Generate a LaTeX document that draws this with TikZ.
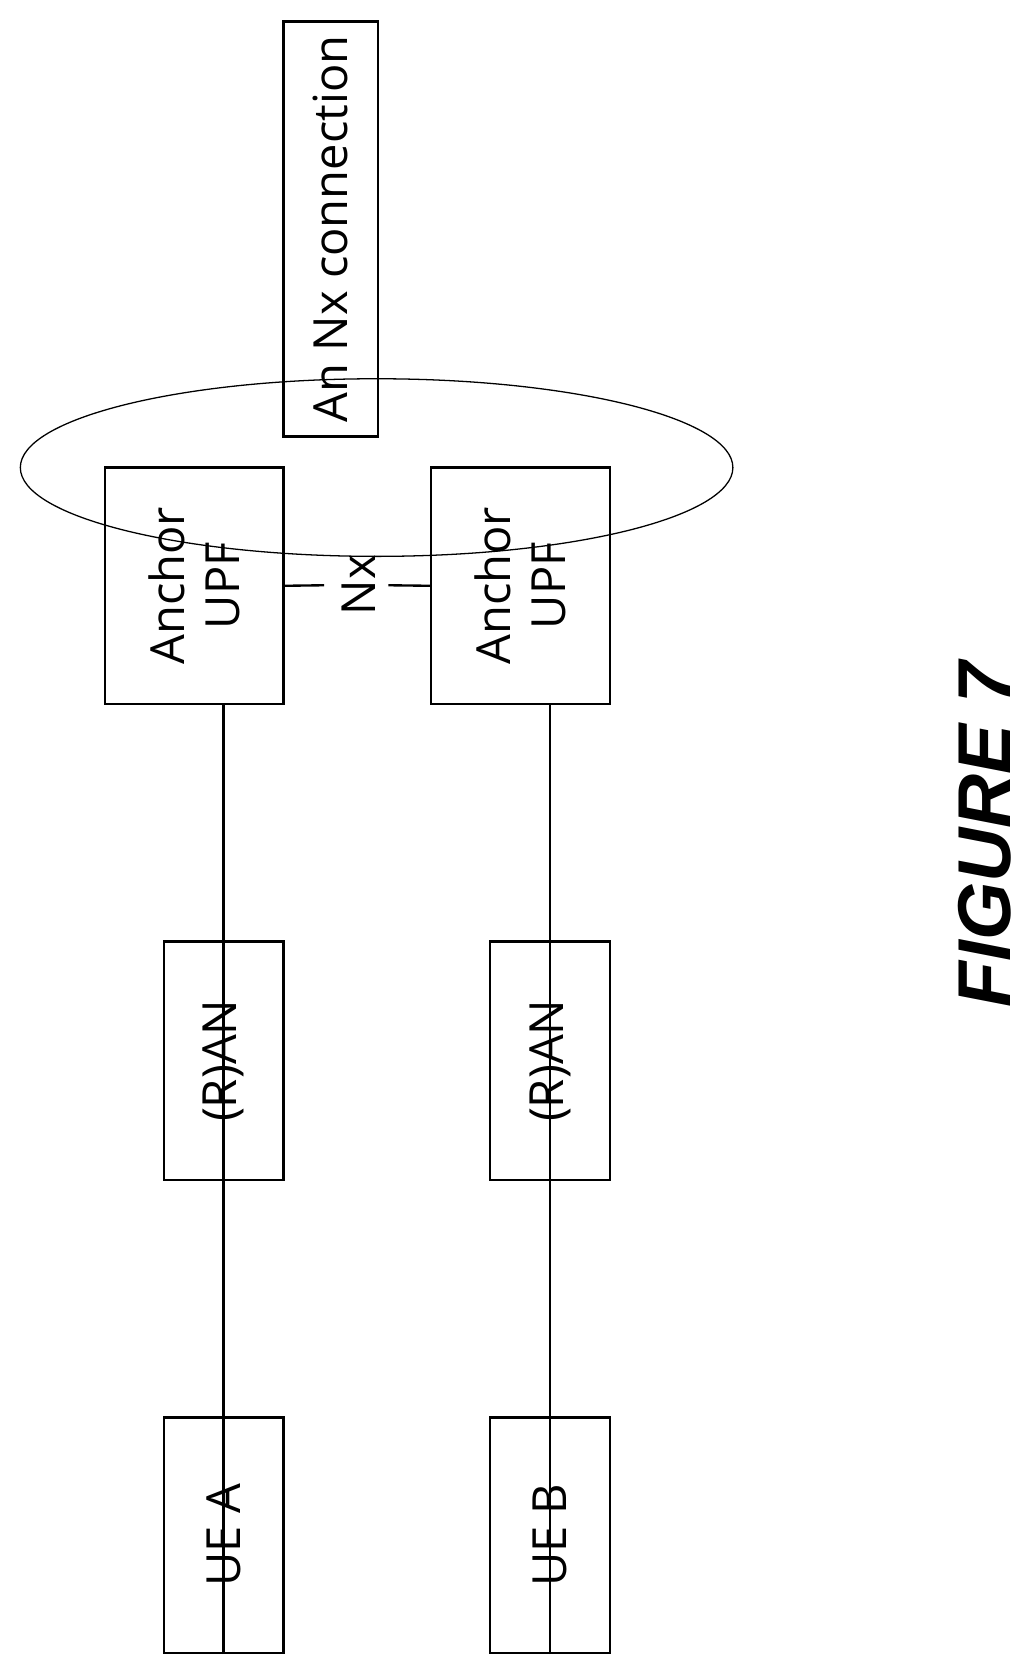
\documentclass[tikz,border=0pt]{standalone}
\usepackage{fontspec}
\setmainfont{Open Sans}
\newfontfamily\figfont{Liberation Sans}
\begin{document}
\begin{tikzpicture}[x=1pt,y=-1pt,
  box/.style={draw,line width=2.2pt,minimum width=#1,inner sep=0pt},
  lbl/.style={rotate=90,font=\fontsize{44}{52}\selectfont,align=center},
  conn/.style={line width=2.2pt}]
\useasboundingbox (0,0) rectangle (961,1559);
\node[box=167pt,minimum height=221pt] (u1) at (181.5,547.5) {};
\node[box=167pt,minimum height=221pt] (u2) at (486.5,547.5) {};
\node[lbl] at (u1) {Anchor\\UPF};
\node[lbl] at (u2) {Anchor\\UPF};
\node[box=112pt,minimum height=223pt] (r1) at (209,991.5) {};
\node[box=112pt,minimum height=223pt] (r2) at (514,991.5) {};
\node[lbl] at (r1) {(R)AN};
\node[lbl] at (r2) {(R)AN};
\node[box=112pt,minimum height=220pt] (e1) at (209,1435) {};
\node[box=112pt,minimum height=220pt] (e2) at (514,1435) {};
\node[lbl] at (e1) {UE A};
\node[lbl] at (e2) {UE B};
\draw[conn] (r1.south) -- (r1.south |- u1.south);
\draw[conn] (e1.south) -- (r1.north);
\draw[conn] (r2.south) -- (r2.south |- u2.south);
\draw[conn] (e2.south) -- (r2.north);
\node[lbl] (nx) at (335,547) {Nx};
\draw[conn] (u1.east) -- (303,547);
\draw[conn] (u2.west) -- (363,547);
\node[box=88pt,minimum height=388pt] (c) at (309,214) {};
\node[lbl] at (c) {An Nx connection};
\draw[line width=1.2pt] (352,437) ellipse [x radius=333pt,y radius=83pt];
\node[rotate=90,font=\figfont\bfseries\itshape\fontsize{70}{80}\selectfont] (fig) at (920,780) {FIGURE 7};
\end{tikzpicture}
\end{document}
